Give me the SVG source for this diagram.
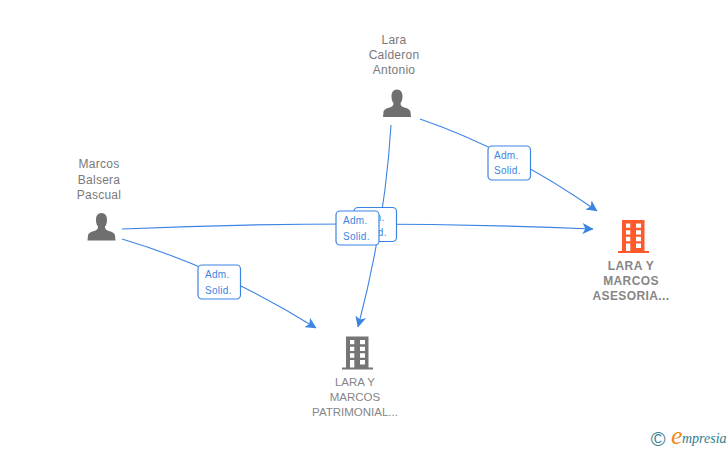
<svg xmlns="http://www.w3.org/2000/svg" width="728" height="450" viewBox="0 0 728 450">
<defs>
<marker id="arrow" viewBox="0 0 10 10" refX="9.500" refY="5" markerWidth="11" markerHeight="11" markerUnits="userSpaceOnUse" orient="auto"><path d="M0 0L10 5L0 10L2.500 5Z" fill="#3c84e4"/></marker>
<g id="person"><path d="M0 -14.500C-3.800 -14.500 -5.500 -11.500 -5.500 -8C-5.500 -5 -5 -2.500 -3.500 -1C-3.500 1 -4 2 -5.500 2.700C-8.500 4 -13 4.500 -13.500 8L-14 13L14 13L13.500 8C13 4.500 8.500 4 5.500 2.700C4 2 3.500 1 3.500 -1C5 -2.500 5.500 -5 5.500 -8C5.500 -11.500 3.800 -14.500 0 -14.500Z"/></g>
<path id="bld" fill-rule="evenodd" d="M-11.500 -16.500H11V14.500H15.500V16.500H-15.500V14.500H-11.500ZM-7.500 -13V-8.700H-3.200V-13ZM2.500 -13V-8.700H7.500V-13ZM-7.500 -6.300V-2H-3.200V-6.300ZM2.500 -6.300V-2H7.500V-6.300ZM-7.500 .3V4.700H-3.200V.3ZM2.500 .3V4.700H7.500V.3ZM-7.500 7V14.500H-3.200V7ZM2.500 7V11.500H7.500V7Z"/>
</defs>
<style>
.c{fill:none;stroke:#3c84e4;stroke-width:1.100}
.b{fill:#fff;stroke:#3c84e4;stroke-width:1.200}
.l{font:10px "Liberation Sans",Arial,sans-serif;fill:#3c84e4;letter-spacing:.3px}
.n{font:12px "Liberation Sans",Arial,sans-serif;fill:#7a7a7a;text-anchor:middle;letter-spacing:.25px}
.t{font:bold 12px "Liberation Sans",Arial,sans-serif;fill:#868686;text-anchor:middle;letter-spacing:.4px}
.g{font:11.500px "Liberation Sans",Arial,sans-serif;fill:#868686;text-anchor:middle}
</style>
<rect width="728" height="450" fill="#fff"/>
<g id="connectors">
<path class="c" marker-end="url(#arrow)" d="M420 119Q510 150 597 211"/>
<path class="c" marker-end="url(#arrow)" d="M122 229Q350 219 593 229"/>
<path class="c" marker-end="url(#arrow)" d="M391 125Q385 225 358 327"/>
<path class="c" marker-end="url(#arrow)" d="M122 239Q220 268 316 328"/>
</g>
<g id="edge-labels">
<g><rect class="b" x="488" y="146" width="42.500" height="34" rx="4"/><text class="l" x="494" y="159">Adm.</text><text class="l" x="494" y="174">Solid.</text></g>
<g><rect class="b" x="354" y="207.500" width="42.500" height="34" rx="4"/><text class="l" x="360" y="220.500">Adm.</text><text class="l" x="360" y="235.500">Solid.</text></g>
<g><rect class="b" x="336" y="211" width="43" height="34" rx="4"/><text class="l" x="343" y="224">Adm.</text><text class="l" x="343" y="239.500">Solid.</text></g>
<g><rect class="b" x="198" y="265" width="42.500" height="34" rx="4"/><text class="l" x="205" y="278">Adm.</text><text class="l" x="205" y="293.500">Solid.</text></g>
</g>
<g id="node-lara-calderon">
<use href="#person" x="397" y="104" fill="#6f6f6f"/>
<text class="n" x="394" y="44">Lara</text><text class="n" x="394" y="59">Calderon</text><text class="n" x="394" y="74">Antonio</text>
</g>
<g id="node-marcos-balsera">
<use href="#person" x="101.500" y="227.500" fill="#6f6f6f"/>
<text class="n" x="99" y="168">Marcos</text><text class="n" x="99" y="184">Balsera</text><text class="n" x="99" y="199">Pascual</text>
</g>
<g id="node-asesoria">
<use href="#bld" x="633.500" y="236.500" fill="#ff5a2c"/>
<text class="t" x="631" y="270">LARA Y</text><text class="t" x="631" y="285">MARCOS</text><text class="t" x="631" y="300">ASESORIA...</text>
</g>
<g id="node-patrimonial">
<use href="#bld" x="357.500" y="353" fill="#757575"/>
<text class="g" x="355" y="386">LARA Y</text><text class="g" x="355" y="401">MARCOS</text><text class="g" x="355" y="416">PATRIMONIAL...</text>
</g>
<g id="logo">
<text x="658" y="445.500" font-family="Liberation Sans,sans-serif" font-size="20" fill="#3b7f93" text-anchor="middle">©</text>
<text x="671" y="444" font-family="Liberation Serif,serif" font-size="26" font-style="italic" fill="#f08a1d">e</text>
<text x="682" y="443" font-family="Liberation Serif,serif" font-size="14" font-style="italic" fill="#2f7d92">mpresia</text>
</g>
</svg>
